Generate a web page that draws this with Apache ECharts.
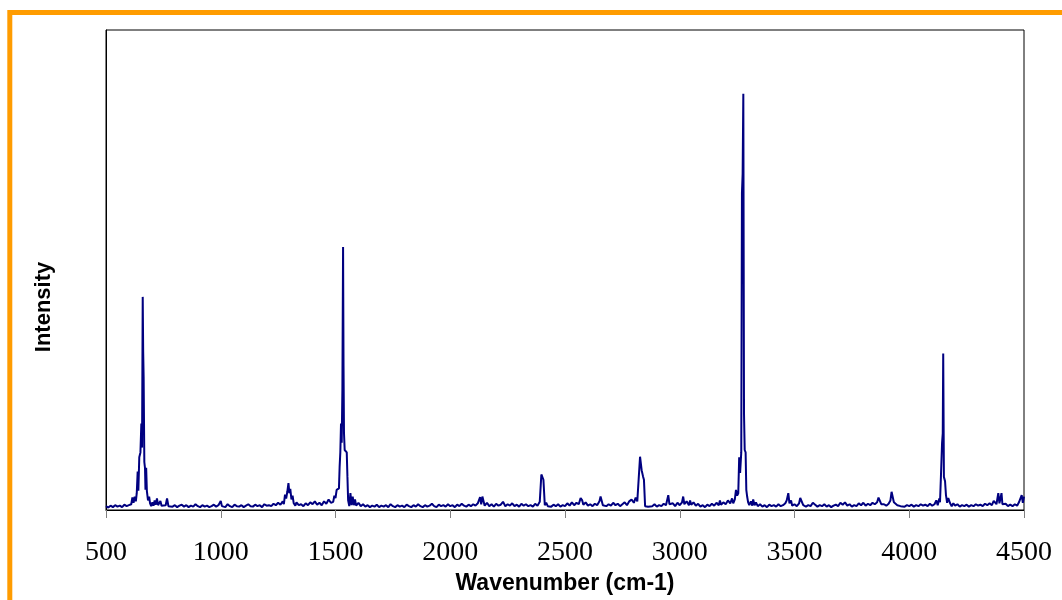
<!DOCTYPE html>
<html>
<head>
<meta charset="utf-8">
<script src="https://cdn.jsdelivr.net/npm/echarts@6/dist/echarts.min.js"></script>
<style>
html,body{margin:0;padding:0;background:#fff;}
#chart{width:1062px;height:600px;}
</style>
</head>
<body>
<div id="chart"></div>
<script>
// Wavenumber (cm-1) positions of the sampled spectrum
var wavenumber = [
  500, 510, 520, 530, 540, 550, 560, 570, 580, 590,
  600, 605, 610, 615, 620, 625, 630, 634, 638, 641,
  645, 650, 654, 657, 660, 662, 664, 667, 670, 672,
  675, 678, 683, 688, 692, 697, 702, 707, 712, 717,
  722, 727, 732, 737, 742, 750, 760, 766, 772, 780,
  790, 800, 810, 820, 830, 840, 850, 860, 870, 880,
  890, 900, 910, 920, 930, 940, 950, 960, 970, 980,
  990, 1000, 1005, 1010, 1020, 1030, 1040, 1050, 1060, 1070,
  1080, 1090, 1100, 1110, 1120, 1130, 1140, 1150, 1160, 1170,
  1180, 1190, 1200, 1210, 1220, 1230, 1240, 1250, 1260, 1270,
  1275, 1280, 1285, 1290, 1295, 1299, 1303, 1308, 1313, 1318,
  1325, 1330, 1340, 1350, 1360, 1370, 1380, 1390, 1400, 1410,
  1420, 1430, 1440, 1450, 1460, 1470, 1480, 1490, 1495, 1500,
  1505, 1510, 1515, 1518, 1521, 1524, 1527, 1530, 1533, 1535,
  1537, 1540, 1545, 1549, 1552, 1555, 1560, 1565, 1570, 1575,
  1580, 1585, 1590, 1600, 1610, 1620, 1630, 1640, 1650, 1660,
  1670, 1680, 1690, 1700, 1710, 1720, 1730, 1740, 1750, 1760,
  1770, 1780, 1790, 1800, 1810, 1820, 1830, 1840, 1850, 1860,
  1870, 1880, 1890, 1900, 1910, 1920, 1930, 1940, 1950, 1960,
  1970, 1980, 1990, 2000, 2010, 2020, 2030, 2040, 2050, 2060,
  2070, 2080, 2090, 2100, 2110, 2120, 2130, 2135, 2140, 2150,
  2160, 2170, 2180, 2190, 2200, 2210, 2220, 2230, 2240, 2250,
  2260, 2270, 2280, 2290, 2300, 2310, 2320, 2330, 2340, 2350,
  2360, 2370, 2380, 2386, 2390, 2393, 2397, 2401, 2406, 2409,
  2412, 2418, 2425, 2432, 2440, 2450, 2460, 2470, 2480, 2490,
  2500, 2510, 2520, 2530, 2540, 2550, 2560, 2568, 2575, 2580,
  2590, 2600, 2610, 2620, 2630, 2640, 2650, 2655, 2660, 2665,
  2670, 2680, 2690, 2700, 2710, 2720, 2730, 2740, 2750, 2760,
  2770, 2780, 2790, 2800, 2808, 2815, 2820, 2827, 2834, 2840,
  2844, 2849, 2855, 2862, 2870, 2880, 2890, 2900, 2910, 2920,
  2930, 2940, 2950, 2955, 2960, 2970, 2980, 2990, 3000, 3010,
  3015, 3020, 3030, 3040, 3045, 3050, 3060, 3070, 3080, 3090,
  3100, 3110, 3120, 3130, 3140, 3150, 3160, 3170, 3175, 3180,
  3190, 3200, 3210, 3220, 3228, 3233, 3240, 3245, 3250, 3255,
  3259, 3263, 3266, 3268, 3271, 3274, 3277, 3280, 3283, 3287,
  3290, 3294, 3298, 3303, 3310, 3316, 3320, 3326, 3332, 3340,
  3350, 3360, 3370, 3380, 3390, 3400, 3410, 3420, 3430, 3440,
  3450, 3460, 3466, 3473, 3478, 3485, 3490, 3500, 3510, 3520,
  3525, 3532, 3538, 3545, 3550, 3560, 3570, 3580, 3590, 3600,
  3610, 3620, 3630, 3640, 3650, 3660, 3670, 3680, 3690, 3700,
  3710, 3720, 3730, 3740, 3750, 3760, 3770, 3780, 3790, 3800,
  3810, 3820, 3830, 3840, 3850, 3860, 3866, 3872, 3878, 3885,
  3890, 3900, 3910, 3918, 3923, 3928, 3933, 3940, 3948, 3955,
  3962, 3970, 3980, 3990, 4000, 4010, 4020, 4030, 4040, 4050,
  4060, 4070, 4080, 4090, 4100, 4110, 4118, 4124, 4131, 4134,
  4138, 4143, 4146, 4148, 4151, 4156, 4160, 4165, 4170, 4178,
  4185, 4192, 4200, 4210, 4220, 4230, 4240, 4250, 4260, 4270,
  4280, 4290, 4300, 4310, 4320, 4330, 4340, 4350, 4360, 4368,
  4374, 4380, 4388, 4393, 4398, 4402, 4406, 4412, 4420, 4430,
  4440, 4450, 4460, 4470, 4478, 4484, 4490, 4495, 4500
];
// Intensity (arbitrary units), aligned with wavenumber
var intensity = [
  0.8, 0.5, 0.9, 0.6, 1.0, 0.7, 0.9, 0.6, 1.1, 0.8,
  1.0, 0.7, 1.2, 2.6, 1.5, 2.8, 1.8, 3.5, 8.0, 4.0,
  11.0, 12.0, 18.0, 13.0, 44.4, 33.0, 27.7, 10.0, 8.7, 4.2,
  8.8, 4.0, 2.0, 2.8, 1.4, 0.8, 1.6, 0.9, 2.0, 1.1,
  2.4, 1.0, 0.7, 1.9, 0.9, 0.6, 1.0, 2.4, 0.8, 1.2,
  0.7, 1.0, 0.6, 0.9, 1.1, 0.7, 1.0, 0.6, 0.9, 0.7,
  1.2, 0.8, 0.6, 1.0, 0.7, 0.9, 0.6, 0.8, 1.1, 0.7,
  1.0, 1.9, 0.8, 1.0, 0.6, 1.2, 0.8, 0.6, 1.1, 0.8,
  0.7, 1.0, 0.6, 0.9, 1.2, 0.8, 0.7, 1.1, 0.8, 1.0,
  0.6, 1.2, 0.9, 1.0, 0.8, 1.3, 1.0, 1.5, 1.1, 1.8,
  1.2, 3.2, 2.4, 3.8, 5.6, 3.5, 4.4, 2.2, 3.0, 1.4,
  0.9, 1.6, 1.0, 1.2, 0.8, 1.4, 1.0, 1.6, 1.2, 1.8,
  1.1, 1.5, 1.0, 1.8, 1.3, 2.2, 1.5, 1.7, 3.0, 2.5,
  4.2, 4.2, 4.5, 9.0, 12.0, 18.0, 14.0, 25.0, 54.8, 30.0,
  16.0, 12.5, 12.5, 12.0, 6.9, 2.0, 0.8, 3.5, 1.0, 2.8,
  1.0, 2.2, 0.9, 1.5, 0.8, 1.2, 0.7, 1.0, 0.6, 0.9,
  0.7, 1.1, 0.6, 0.9, 0.7, 1.0, 0.6, 1.2, 0.8, 0.6,
  1.0, 0.7, 0.9, 0.6, 1.1, 0.8, 0.6, 1.0, 0.7, 1.2,
  0.8, 0.6, 1.0, 0.7, 0.9, 1.3, 0.8, 0.6, 1.1, 0.8,
  1.0, 0.7, 1.2, 0.8, 1.0, 0.6, 1.1, 0.8, 1.3, 0.9,
  0.7, 1.1, 0.8, 1.2, 0.9, 1.4, 2.7, 1.2, 2.8, 0.9,
  1.5, 0.8, 1.2, 0.7, 1.3, 0.9, 1.1, 1.7, 0.8, 1.2,
  0.9, 1.4, 0.8, 1.1, 0.7, 1.3, 0.9, 1.2, 0.8, 1.0,
  0.7, 1.3, 0.9, 1.0, 1.7, 2.0, 7.4, 7.0, 6.3, 5.9,
  1.0, 1.5, 0.8, 1.2, 0.7, 1.1, 0.8, 1.2, 0.7, 1.0,
  0.8, 1.4, 0.9, 1.6, 1.0, 1.5, 1.2, 2.5, 2.0, 1.1,
  1.6, 0.9, 1.2, 0.8, 1.3, 1.0, 1.8, 2.8, 2.4, 1.0,
  1.4, 0.8, 1.2, 0.9, 1.5, 1.0, 1.3, 0.8, 1.2, 1.6,
  1.0, 1.8, 2.2, 1.5, 2.6, 1.8, 2.1, 11.1, 8.3, 7.0,
  6.3, 0.8, 1.2, 0.7, 1.1, 0.8, 1.2, 0.7, 1.0, 0.8,
  1.3, 1.0, 3.1, 1.2, 1.0, 1.4, 0.8, 1.5, 1.0, 1.6,
  2.8, 1.2, 1.8, 1.0, 2.0, 1.1, 1.6, 0.9, 1.3, 0.7,
  1.0, 0.6, 1.1, 0.8, 1.3, 0.9, 1.5, 1.0, 2.0, 1.1,
  1.6, 1.2, 2.0, 1.4, 2.4, 1.4, 2.2, 4.2, 3.0, 3.5,
  11.0, 7.7, 7.7, 12.0, 66.0, 70.0, 86.7, 20.0, 12.5, 12.0,
  4.2, 2.7, 1.6, 1.0, 1.8, 0.9, 2.2, 1.0, 1.6, 0.8,
  1.2, 0.7, 1.0, 0.6, 1.1, 0.8, 1.0, 0.7, 1.2, 0.8,
  1.0, 1.4, 2.0, 3.5, 1.4, 2.0, 0.9, 1.2, 0.8, 1.4,
  2.5, 2.4, 1.0, 1.3, 0.7, 1.0, 0.8, 1.5, 1.1, 0.7,
  1.0, 0.8, 1.2, 0.7, 1.0, 0.6, 0.9, 1.1, 0.8, 1.5,
  1.1, 1.6, 0.9, 1.2, 0.7, 1.0, 0.8, 1.4, 1.0, 1.5,
  0.9, 1.3, 1.0, 1.5, 1.2, 1.6, 2.6, 2.7, 1.2, 0.8,
  1.2, 0.9, 1.3, 2.0, 3.8, 3.5, 1.6, 2.0, 1.0, 1.4,
  0.8, 1.2, 0.7, 1.0, 0.8, 1.1, 0.7, 1.0, 0.8, 1.2,
  0.9, 1.1, 0.8, 1.3, 0.9, 1.2, 2.0, 1.0, 2.4, 1.6,
  6.9, 14.0, 16.0, 32.6, 6.9, 6.0, 3.1, 1.5, 2.5, 1.4,
  0.8, 1.4, 0.9, 1.2, 0.7, 1.0, 0.8, 1.1, 0.7, 1.0,
  0.8, 1.2, 0.9, 1.1, 0.8, 1.3, 1.0, 1.4, 1.0, 1.9,
  2.3, 1.2, 3.5, 1.4, 1.6, 3.5, 1.2, 1.0, 1.3, 0.8,
  1.1, 0.8, 1.2, 0.9, 1.6, 1.2, 3.1, 1.5, 2.8
];
var xTicks = [500, 1000, 1500, 2000, 2500, 3000, 3500, 4000, 4500];
var xTitle = 'Wavenumber (cm-1)';
var yTitle = 'Intensity';

var points = wavenumber.map(function (w, i) { return [w, intensity[i]]; });

var chart = echarts.init(document.getElementById('chart'), null, {renderer: 'canvas'});
chart.setOption({
  animation: false,
  backgroundColor: '#ffffff',
  graphic: [{
    type: 'rect',
    silent: true,
    z: 100,
    shape: {x: 9.8, y: 12.5, width: 1200, height: 800},
    style: {fill: 'none', stroke: '#FF9C00', lineWidth: 5}
  }, {
    type: 'text',
    silent: true,
    x: 44,
    y: 307,
    rotation: Math.PI / 2,
    style: {
      text: yTitle,
      align: 'center',
      verticalAlign: 'middle',
      fontFamily: 'Liberation Sans',
      fontWeight: 'bold',
      fontSize: 22,
      fill: '#000'
    }
  }],
  grid: {
    left: 106, right: 38, top: 30, bottom: 90,
    show: true, borderColor: '#000', borderWidth: 1, backgroundColor: 'transparent'
  },
  xAxis: {
    type: 'value',
    min: xTicks[0], max: xTicks[xTicks.length - 1], interval: 500,
    name: xTitle,
    nameLocation: 'middle',
    nameGap: 61,
    nameTextStyle: {fontFamily: 'Liberation Sans', fontWeight: 'bold', fontSize: 23, color: '#000'},
    axisLine: {show: true, lineStyle: {color: '#000', width: 1}},
    axisTick: {show: true, length: 8, inside: false, lineStyle: {color: '#808080', width: 1}},
    axisLabel: {
      margin: 29,
      fontFamily: 'Liberation Serif', fontSize: 28, color: '#000',
      formatter: function (v) { return String(v); }
    },
    splitLine: {show: false}
  },
  yAxis: {
    type: 'value',
    min: 0, max: 100,
    axisLine: {show: true, lineStyle: {color: '#000', width: 1}},
    axisTick: {show: false},
    axisLabel: {show: false},
    splitLine: {show: false}
  },
  series: [{
    type: 'line',
    data: points,
    showSymbol: false,
    symbol: 'none',
    lineStyle: {color: '#000080', width: 2},
    clip: true
  }]
});
</script>
</body>
</html>
